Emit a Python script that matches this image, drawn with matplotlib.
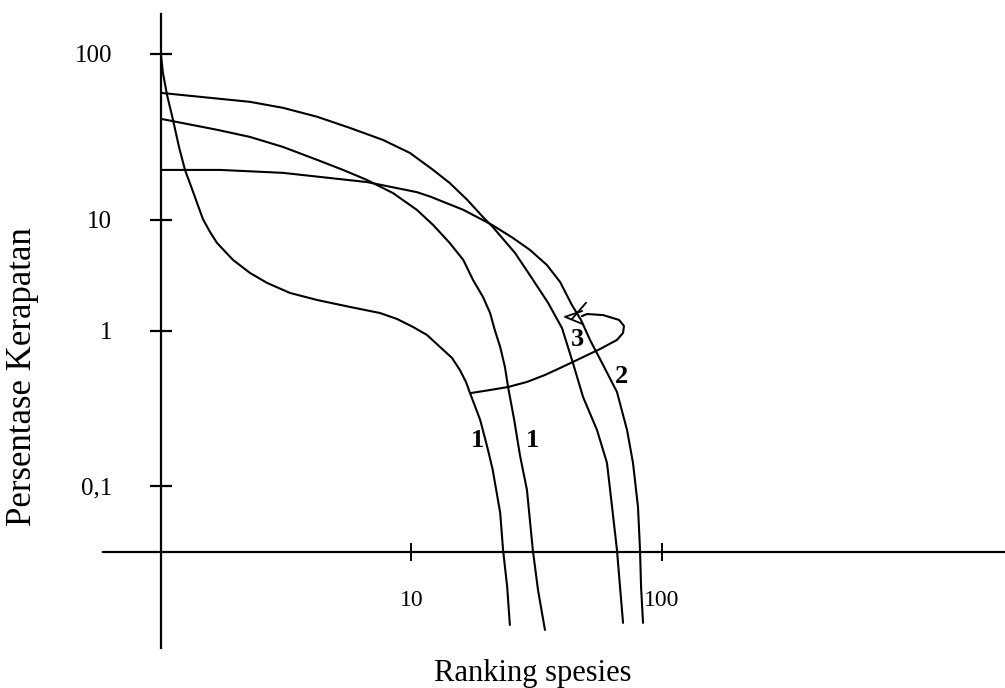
import numpy as np
import matplotlib
matplotlib.use("Agg")
import matplotlib.pyplot as plt
from matplotlib.ticker import FixedLocator, FixedFormatter, NullLocator

plt.rcParams["font.family"] = ["Liberation Serif", "DejaVu Serif"]

# Rank-abundance curves (rank, % density).
rank_a = [1.0, 1.018, 1.057, 1.117, 1.18, 1.247, 1.317, 1.392, 1.471, 1.569,
          1.673, 1.939, 2.266, 2.65, 3.27, 4.2, 5.68, 7.49, 8.75, 10.14,
          11.53, 13.0, 14.51, 15.6, 16.5, 17.1, 18.8, 20.2, 21.1, 22.6, 23.2,
          24.1, 24.7]
pct_a = [98.6, 76.8, 56.6, 40, 27.5, 20, 16.0, 12.7, 10.1, 7.8,
         6.21, 4.36, 3.33, 2.71, 2.20, 1.90, 1.645, 1.45, 1.283, 1.086,
         0.942, 0.788, 0.670, 0.560, 0.469, 0.40, 0.267, 0.171, 0.127,
         0.067, 0.0387, 0.0223, 0.0127]

rank_b = [1.0, 1.673, 2.266, 3.07, 4.2, 5.33, 6.64, 8.44, 10.5, 12.2, 14.2,
          16.1, 17.6, 19.3, 20.6, 21.5, 22.6, 23.6, 24.3, 25.7, 27.1, 28.9,
          30.5, 32.0, 34.1]
pct_b = [40.6, 34.9, 31.6, 27.5, 23.0, 20.0, 17.4, 14.5, 11.5, 9.0, 6.21,
         4.36, 2.88, 2.02, 1.45, 1.02, 0.788, 0.586, 0.435, 0.267, 0.158,
         0.0943, 0.0387, 0.0213, 0.0118]

rank_c = [1.0, 2.266, 3.07, 4.2, 5.68, 7.7, 9.86, 12.2, 14.2, 16.7, 19.3,
          21.1, 25.9, 30.0, 35.1, 39.9, 44.1, 48.4, 55.0, 60.3, 63.2, 66.1,
          68.0, 69.9]
pct_c = [58.2, 51.4, 47.3, 41.8, 35.8, 30.3, 25.3, 20, 16.7, 13.2, 10.4,
         8.65, 5.04, 3.07, 1.79, 1.06, 0.622, 0.375, 0.23, 0.141, 0.0732,
         0.0387, 0.0223, 0.0131]

rank_d = [1.0, 1.72, 3.07, 6.64, 10.5, 11.9, 16.1, 21.0, 25.4, 29.7, 34.7,
          39.2, 43.7, 47.5, 51.6, 58.2, 66.1, 72.5, 76.6, 80.2, 81.7, 82.5,
          84.0]
pct_d = [20, 20, 19.2, 16.9, 14.7, 13.8, 11.5, 9.0, 6.88, 5.37, 3.93,
         2.76, 1.71, 1.256, 0.875, 0.603, 0.404, 0.23, 0.141, 0.0732,
         0.0387, 0.0223, 0.0131]

# connecting stroke from the bend of curve 1 round the loop
rank_loop = [17.3, 20.6, 24.3, 28.9, 34.1, 39.2, 44.1, 56.6, 66.1, 69.9,
             70.5, 67.4, 58.2, 50.2, 47.9]
pct_loop = [0.398, 0.416, 0.435, 0.469, 0.520, 0.577, 0.631, 0.765, 0.875,
            0.971, 1.109, 1.256, 1.39, 1.42, 1.36]

# arrow head and slash mark at the end of the loop
arrow_rank = [47.9, 41.0, 48.4]
arrow_pct = [1.51, 1.34, 1.15]
slash_rank = [43.7, 49.7]
slash_pct = [1.28, 1.79]

curve_labels = ["1", "1", "3", "2"]
label_rank = [18.3, 30.5, 45.8, 69.2]
label_pct = [0.198, 0.198, 0.875, 0.505]

y_ticks = [0.1, 1, 10, 100]
y_ticklabels = ["0,1", "1", "10", "100"]
x_ticks = [10, 100]
x_ticklabels = ["10", "100"]

# the hand-drawn y axis is not evenly spaced per decade
DECADES = [-4, -1, 0, 1, 2, 4]
DECADE_POS = [-951, -486, -331, -220, -54, 278]


def forward(y):
    y = np.maximum(np.asarray(y, float), 1e-12)
    return np.interp(np.log10(y), DECADES, DECADE_POS)


def inverse(s):
    return 10 ** np.interp(np.asarray(s, float), DECADE_POS, DECADES)


fig = plt.figure(figsize=(10.05, 6.88), dpi=100)
ax = fig.add_axes([0, 0, 1, 1])
ax.set_xscale("log")
ax.set_yscale("function", functions=(forward, inverse))
ax.set_xlim(0.2277, 2340)
ax.set_ylim(0.00498, 211)
ax.patch.set_visible(False)

lw = 1.5
for r, p in [(rank_a, pct_a), (rank_b, pct_b), (rank_c, pct_c),
             (rank_d, pct_d), (rank_loop, pct_loop)]:
    ax.plot(r, p, color="black", lw=lw, solid_joinstyle="round",
            solid_capstyle="round")
ax.plot(arrow_rank, arrow_pct, color="black", lw=1.3)
ax.plot(slash_rank, slash_pct, color="black", lw=1.3)

for t, r, p in zip(curve_labels, label_rank, label_pct):
    ax.text(r, p, t, ha="center", va="center", fontsize=19,
            fontweight="bold")

# axes drawn as crossing lines
for s in ["top", "right"]:
    ax.spines[s].set_visible(False)
ax.spines["left"].set_position(("data", 1.0))
ax.spines["bottom"].set_position(("data", 0.0375))
ax.spines["left"].set_bounds(0.009, 174)
ax.spines["bottom"].set_bounds(0.587, 2340)
for s in ["left", "bottom"]:
    ax.spines[s].set_linewidth(1.6)

ax.yaxis.set_major_locator(FixedLocator(y_ticks))
ax.yaxis.set_major_formatter(FixedFormatter(y_ticklabels))
ax.yaxis.set_minor_locator(NullLocator())
ax.xaxis.set_major_locator(FixedLocator(x_ticks))
ax.xaxis.set_major_formatter(FixedFormatter(x_ticklabels))
ax.xaxis.set_minor_locator(NullLocator())
ax.tick_params(axis="y", direction="inout", length=16.5, width=1.6,
               pad=27, labelsize=18)
ax.tick_params(axis="x", direction="inout", length=13, width=1.4,
               pad=21, labelsize=17)

fig.text(23 / 1005, 1 - 377 / 688, "Persentase Kerapatan", rotation=90,
         ha="center", va="center", fontsize=25)
fig.text(533 / 1005, 1 - 673 / 688, "Ranking spesies", ha="center",
         va="center", fontsize=22)

fig.savefig("out.png", dpi=100)
